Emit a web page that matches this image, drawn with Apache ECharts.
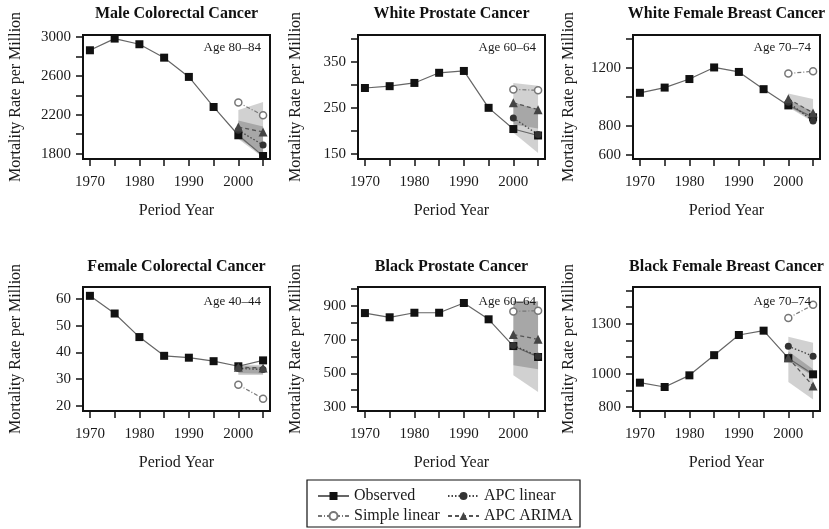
<html>
<head>
<meta charset="utf-8">
<title>Mortality forecasts</title>
<script src="https://cdn.jsdelivr.net/npm/echarts@6/dist/echarts.min.js"></script>
<style>
  html, body { margin: 0; padding: 0; background: #fff; }
  #main { width: 829px; height: 529px; }
</style>
</head>
<body>
<div id="main"></div>
<script type="text/javascript">
// ---- data ----
var years = [1970, 1975, 1980, 1985, 1990, 1995, 2000, 2005];
var fcYears = [2000, 2005];
var xTicks = [1970, 1975, 1980, 1985, 1990, 1995, 2000, 2005];
var xLabels = [1970, 1980, 1990, 2000];

var titles = ['Male Colorectal Cancer', 'White Prostate Cancer', 'White Female Breast Cancer',
              'Female Colorectal Cancer', 'Black Prostate Cancer', 'Black Female Breast Cancer'];
var ages = ['Age 80\u201384', 'Age 60\u201364', 'Age 70\u201374', 'Age 40\u201344', 'Age 60\u201364', 'Age 70\u201374'];

var observed = [
    [2863, 2983, 2925, 2787, 2589, 2280, 1989, 1776],
    [293, 297, 304, 326, 330, 250, 204, 190],
    [1029, 1065, 1124, 1204, 1173, 1054, 942, 860],
    [61.1, 54.5, 45.7, 38.7, 38.0, 36.7, 34.8, 37.0],
    [858, 833, 860, 860, 918, 821, 662, 597],
    [946, 920, 990, 1111, 1232, 1258, 1093, 996]
];
var simpleLinear = [[2325, 2194], [290, 288], [1162, 1178], [27.9, 22.7], [868, 872], [1334, 1413]];
var apcLinear    = [[2040, 1889], [228, 192], [963, 835],   [34.0, 33.6], [666, 602], [1165, 1105]];
var apcArima     = [[2074, 2023], [261, 246], [988, 890],   [34.4, 34.2], [730, 702], [1095, 926]];

// prediction bands at 2000 and 2005
var outerLo = [[1950, 1760], [196, 152], [930, 828], [31.5, 31.5], [488, 389], [950, 845]];
var outerHi = [[2250, 2330], [304, 298], [1024, 986], [35.5, 35.3], [930, 930], [1222, 1185]];
var innerLo = [[1960, 1790], [214, 205], [935, 840], [32.2, 32.0], [548, 524], [1076, 986]];
var innerHi = [[2140, 2080], [262, 246], [980, 900], [34.8, 34.6], [930, 925], [1135, 1026]];

var yRange = [[1745, 3020], [139, 408], [572, 1428], [18.1, 64.4], [276, 1013], [776, 1520]];
var yTicks = [
    [1800, 2000, 2200, 2400, 2600, 2800, 3000],
    [150, 200, 250, 300, 350, 400],
    [600, 800, 1000, 1200, 1400],
    [20, 30, 40, 50, 60],
    [300, 400, 500, 600, 700, 800, 900, 1000],
    [800, 900, 1000, 1100, 1200, 1300, 1400, 1500]
];
var yLabels = [
    [1800, 2200, 2600, 3000],
    [150, 250, 350],
    [600, 800, 1200],
    [20, 30, 40, 50, 60],
    [300, 500, 700, 900],
    [800, 1000, 1300]
];

// ---- layout ----
var FONT = '"Liberation Serif", "DejaVu Serif", serif';
var TXT = '#1a1a1a';
var lefts = [83, 358, 633];
var tops = [35, 287];
var W = 187, H = 124;
var nameGaps = [59, 54, 56, 59, 54, 56];

var myChart = echarts.init(document.getElementById('main'), null, {renderer: 'canvas'});

function bandItem(lo, hi) {
    return [fcYears[0], lo[0], hi[0], fcYears[1], lo[1], hi[1]];
}
function renderBand(params, api) {
    var a = api.coord([api.value(0), api.value(1)]);
    var b = api.coord([api.value(0), api.value(2)]);
    var c = api.coord([api.value(3), api.value(5)]);
    var d = api.coord([api.value(3), api.value(4)]);
    return {
        type: 'polygon',
        shape: {points: [a, b, c, d]},
        style: {fill: params.seriesName === 'outer' ? 'rgba(0,0,0,0.18)' : 'rgba(0,0,0,0.2)'}
    };
}
function pairs(xs, ys) {
    return xs.map(function (x, k) { return [x, ys[k]]; });
}

var grids = [], xAxes = [], yAxes = [], series = [], graphics = [];

for (var i = 0; i < 6; i++) {
    var col = i % 3, row = Math.floor(i / 3);
    grids.push({left: lefts[col], top: tops[row], width: W, height: H,
                show: true, borderColor: '#111', borderWidth: 2, containLabel: false});
    xAxes.push({
        type: 'value', gridIndex: i, min: 1968.6, max: 2006.4,
        axisLine: {show: false},
        axisTick: {show: true, length: 7, lineStyle: {color: '#111', width: 1.5}, customValues: xTicks},
        axisLabel: {customValues: xLabels, margin: 16, color: TXT, fontFamily: FONT, fontSize: 15,
                    formatter: function (v) { return String(v); }},
        splitLine: {show: false},
        name: 'Period Year', nameLocation: 'middle', nameGap: 44,
        nameTextStyle: {color: TXT, fontFamily: FONT, fontSize: 16}
    });
    yAxes.push({
        type: 'value', gridIndex: i, min: yRange[i][0], max: yRange[i][1],
        axisLine: {show: false},
        axisTick: {show: true, length: 7, lineStyle: {color: '#111', width: 1.5}, customValues: yTicks[i]},
        axisLabel: {customValues: yLabels[i], margin: 12, color: TXT, fontFamily: FONT, fontSize: 15,
                    formatter: function (v) { return String(v); }},
        splitLine: {show: false},
        name: 'Mortality Rate per Million', nameLocation: 'middle', nameGap: nameGaps[i],
        nameTextStyle: {color: TXT, fontFamily: FONT, fontSize: 16}
    });

    series.push({name: 'outer', type: 'custom', xAxisIndex: i, yAxisIndex: i, z: 1, silent: true,
                 renderItem: renderBand, encode: {x: [0, 3], y: [1, 2, 4, 5]},
                 data: [bandItem(outerLo[i], outerHi[i])]});
    series.push({name: 'inner', type: 'custom', xAxisIndex: i, yAxisIndex: i, z: 1, silent: true,
                 renderItem: renderBand, encode: {x: [0, 3], y: [1, 2, 4, 5]},
                 data: [bandItem(innerLo[i], innerHi[i])]});
    series.push({name: 'Observed', type: 'line', xAxisIndex: i, yAxisIndex: i,
                 data: pairs(years, observed[i]), symbol: 'rect', symbolSize: 8,
                 lineStyle: {color: '#666', width: 1.2}, itemStyle: {color: '#111'}});
    series.push({name: 'Simple linear', type: 'line', xAxisIndex: i, yAxisIndex: i,
                 data: pairs(fcYears, simpleLinear[i]), symbol: 'circle', symbolSize: 7,
                 lineStyle: {color: '#777', width: 1.2, type: [4, 2, 1, 2]},
                 itemStyle: {color: '#fff', borderColor: '#777', borderWidth: 1.5}});
    series.push({name: 'APC linear', type: 'line', xAxisIndex: i, yAxisIndex: i,
                 data: pairs(fcYears, apcLinear[i]), symbol: 'circle', symbolSize: 7,
                 lineStyle: {color: '#444', width: 1.3, type: [1.5, 2]}, itemStyle: {color: '#333'}});
    series.push({name: 'APC ARIMA', type: 'line', xAxisIndex: i, yAxisIndex: i,
                 data: pairs(fcYears, apcArima[i]), symbol: 'triangle', symbolSize: 9,
                 lineStyle: {color: '#555', width: 1.3, type: [4, 3]}, itemStyle: {color: '#444'}});

    graphics.push({type: 'text', x: lefts[col] + W / 2, y: row ? 267 : 14, z: 10,
                   style: {text: titles[i], font: 'bold 16px ' + FONT, fill: '#111',
                           align: 'center', verticalAlign: 'middle'}});
    graphics.push({type: 'text', x: lefts[col] + W - 9, y: tops[row] + (row ? 15 : 13), z: 10,
                   style: {text: ages[i], font: '13px ' + FONT, fill: TXT,
                           align: 'right', verticalAlign: 'middle'}});
}

// legend frame
graphics.push({type: 'rect', shape: {x: 307, y: 480, width: 273, height: 47}, z: 0,
               style: {fill: '#fff', stroke: '#111', lineWidth: 1.2}});

var legendBase = {orient: 'vertical', top: 488, padding: 0, itemWidth: 31, itemHeight: 10, itemGap: 4,
                  selectedMode: false, textStyle: {color: TXT, fontFamily: FONT, fontSize: 16, lineHeight: 16}};

option = {
    animation: false,
    backgroundColor: '#fff',
    grid: grids,
    xAxis: xAxes,
    yAxis: yAxes,
    legend: [
        Object.assign({}, legendBase, {left: 317, data: ['Observed', 'Simple linear']}),
        Object.assign({}, legendBase, {left: 447, data: ['APC linear', 'APC ARIMA']})
    ],
    graphic: graphics,
    series: series
};
myChart.setOption(option);
</script>
</body>
</html>
